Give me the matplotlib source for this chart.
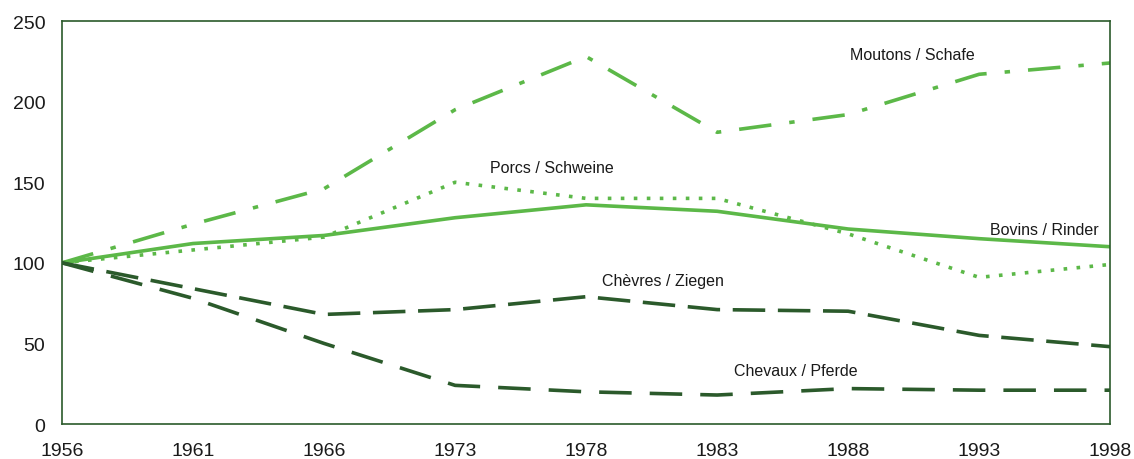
import numpy as np
import matplotlib.pyplot as plt

plt.rcParams['font.family'] = ['Liberation Sans', 'DejaVu Sans']

# Index 1956 = 100
years = ['1956', '1961', '1966', '1973', '1978', '1983', '1988', '1993', '1998']
moutons = [100, 124, 146, 195, 228, 181, 192, 217, 224]
bovins = [100, 112, 117, 128, 136, 132, 121, 115, 110]
porcs = [100, 108, 116, 150, 140, 140, 118, 91, 99]
chevres = [100, 84, 68, 71, 79, 71, 70, 55, 48]
chevaux = [100, 78, 50, 24, 20, 18, 22, 21, 21]

light = '#5cb848'
dark = '#2b5a2b'

fig = plt.figure(figsize=(11.34, 4.6), dpi=100)
ax = fig.add_axes([0.0547, 0.076, 0.9243, 0.876])
x = np.arange(len(years))

ax.plot(x, moutons, color=light, lw=2.6, dashes=(9, 5, 1.5, 5))
ax.plot(x, bovins, color=light, lw=2.6)
ax.plot(x, porcs, color=light, lw=2.6, dashes=(1, 2.6))
ax.plot(x, chevres, color=dark, lw=2.6, dashes=(9, 3.5))
ax.plot(x, chevaux, color=dark, lw=2.6, dashes=(9, 5))

labels = [('Moutons / Schafe', 6.49, 229.5), ('Porcs / Schweine', 3.74, 159),
          ('Bovins / Rinder', 7.5, 121), ('Chèvres / Ziegen', 4.59, 89),
          ('Chevaux / Pferde', 5.6, 33)]
for txt, lx, ly in labels:
    ax.text(lx, ly, txt, ha='center', va='center', fontsize=11.5, color='#1a1a1a')

ax.set_xlim(0, len(years) - 1)
ax.set_ylim(0, 250)
ax.set_xticks(x)
ax.set_xticklabels(years)
ax.set_yticks([0, 50, 100, 150, 200, 250])
ax.tick_params(length=0, labelsize=14, colors='#1a1a1a')
ax.tick_params(axis='y', pad=12)
ax.tick_params(axis='x', pad=13)
for s in ax.spines.values():
    s.set_color(dark)
    s.set_linewidth(1.2)

fig.savefig('out.png', dpi=100)
